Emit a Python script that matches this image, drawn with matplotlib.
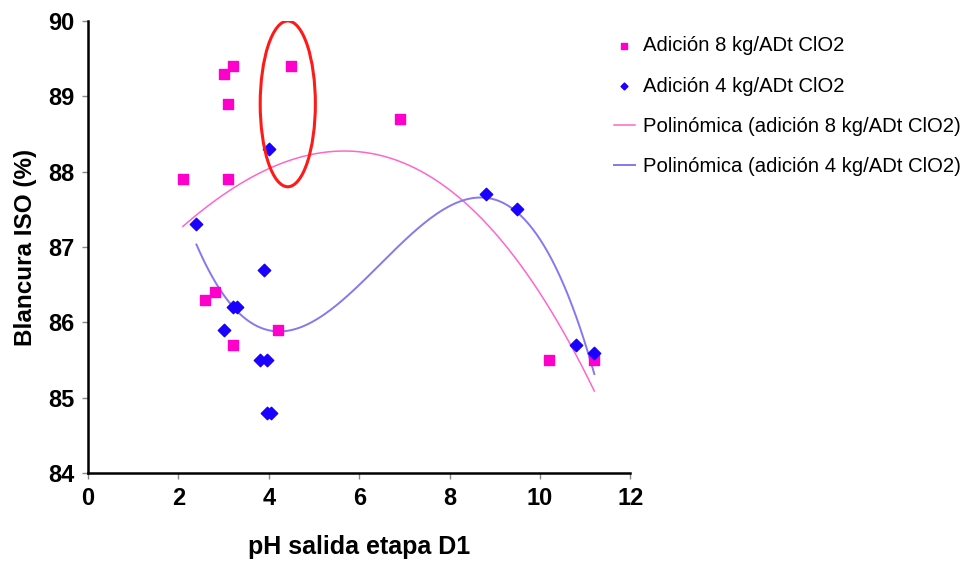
import matplotlib.pyplot as plt
import numpy as np
from matplotlib.patches import Ellipse

# Adición 8 kg/ADt ClO2
ph_8 = [3.2, 3.0, 3.1, 4.5, 2.1, 3.1, 2.6, 2.8, 4.2, 3.2, 6.9, 10.2, 11.2]
iso_8 = [89.4, 89.3, 88.9, 89.4, 87.9, 87.9, 86.3, 86.4, 85.9, 85.7, 88.7, 85.5, 85.5]

# Adición 4 kg/ADt ClO2
ph_4 = [4.0, 2.4, 3.9, 3.2, 3.3, 3.0, 3.8, 3.95, 3.95, 4.05, 8.8, 9.5, 10.8, 11.2]
iso_4 = [88.3, 87.3, 86.7, 86.2, 86.2, 85.9, 85.5, 85.5, 84.8, 84.8, 87.7, 87.5, 85.7, 85.6]

labels = ['Adición 8 kg/ADt ClO2', 'Adición 4 kg/ADt ClO2',
          'Polinómica (adición 8 kg/ADt ClO2)', 'Polinómica (adición 4 kg/ADt ClO2)']

narrow = ['Liberation Sans Narrow', 'DejaVu Sans Condensed', 'Liberation Sans', 'DejaVu Sans']
sans = ['Liberation Sans', 'DejaVu Sans']

fig = plt.figure(figsize=(9.74, 5.66), dpi=100)
ax = fig.add_axes([0.0903, 0.164, 0.557, 0.799])

# polynomial trendlines (Excel style), fitted from the data
c8 = np.polyfit(ph_8, iso_8, 3)
c4 = np.polyfit(ph_4, iso_4, 3)
xs8 = np.linspace(min(ph_8), max(ph_8), 200)
xs4 = np.linspace(min(ph_4), max(ph_4), 200)

ax.scatter(ph_8, iso_8, marker='s', s=50, color='#ff00cc', label=labels[0], zorder=3)
ax.scatter(ph_4, iso_4, marker='D', s=40, color='#1a00ff', label=labels[1], zorder=4)
ax.plot(xs8, np.polyval(c8, xs8), color='#ff66cc', lw=1.1, label=labels[2])
ax.plot(xs4, np.polyval(c4, xs4), color='#8877ee', lw=1.4, label=labels[3])

# highlighted region
ax.add_patch(Ellipse((4.42, 88.9), 1.22, 2.2, fill=False, edgecolor='#ff1a1a', lw=2.2, zorder=5))

ax.set_xlim(0, 12)
ax.set_ylim(84, 90)
ax.set_xticks(range(0, 13, 2))
ax.set_yticks(range(84, 91))
ax.spines['top'].set_visible(False)
ax.spines['right'].set_visible(False)
ax.spines['left'].set_linewidth(1.8)
ax.spines['bottom'].set_linewidth(1.8)
ax.tick_params(length=4, width=1, color='#888888', pad=6)
for lab in ax.get_xticklabels() + ax.get_yticklabels():
    lab.set_family(narrow)
    lab.set_fontweight('bold')
    lab.set_fontsize(17)

ax.set_xlabel('pH salida etapa D1', fontsize=18, fontweight='bold', family=sans, labelpad=18)
ax.set_ylabel('Blancura ISO (%)', fontsize=17.5, fontweight='bold', family=sans, labelpad=8)

fig.legend(loc='upper left', bbox_to_anchor=(0.612, 0.968), frameon=False,
           prop={'family': sans, 'size': 14.6},
           labelspacing=1.05, handlelength=1.0, handletextpad=0.4, markerscale=0.55)

plt.savefig('out.png', dpi=100)
